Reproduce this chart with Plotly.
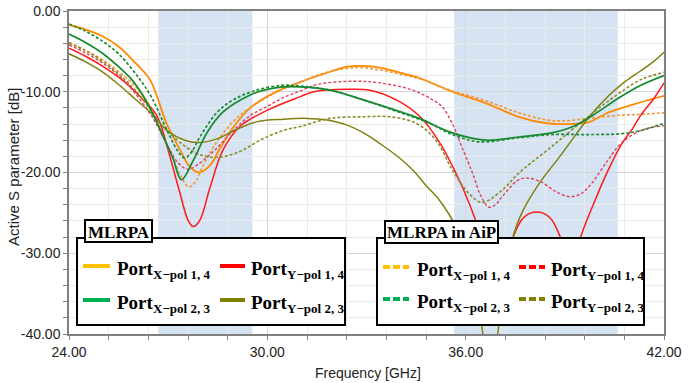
import plotly.graph_objects as go

# ---------------- data ----------------
f_or_s = [24, 24.5, 25, 25.5, 26.0, 26.45, 26.95, 27.36, 27.66, 27.94, 28.27, 28.57, 28.97, 29.48, 30.17, 31.0, 31.7, 32.4, 32.9, 33.4, 33.9, 34.6, 35.6, 36.6, 37.6, 38.45, 39.15, 39.7, 40.3, 41.3, 42]
y_or_s = [-1.7, -2.3, -3.1, -4.4, -6.4, -8.5, -13.9, -17.2, -19.3, -20.0, -19.1, -17.0, -14.4, -12.0, -10.2, -8.8, -7.8, -6.9, -6.8, -7.0, -7.5, -8.3, -10.0, -11.4, -13.1, -13.9, -14.0, -13.8, -12.6, -11.3, -10.5]

f_or_d = [24, 24.5, 25, 25.5, 26.0, 26.45, 26.8, 27.15, 27.4, 27.64, 27.85, 28.0, 28.47, 28.97, 29.4, 30.4, 31.0, 31.7, 32.7, 33.4, 34.0, 34.6, 35.6, 36.6, 37.6, 38.45, 39.0, 39.7, 40.7, 41.3, 42]
y_or_d = [-4.0, -4.9, -6.0, -7.5, -9.3, -11.8, -15.0, -18.3, -20.6, -21.8, -21.0, -19.6, -16.2, -13.7, -12.2, -9.8, -8.8, -7.7, -7.0, -7.3, -7.8, -8.4, -9.9, -11.1, -12.6, -13.5, -13.6, -13.3, -12.9, -12.8, -12.6]

f_rd_s = [24, 24.5, 25, 25.6, 26.2, 26.65, 27.05, 27.36, 27.6, 27.76, 27.96, 28.27, 28.66, 29.17, 29.99, 31.0, 31.4, 32.4, 33.1, 33.9, 34.6, 35.2, 35.8, 36.3, 36.5, 36.75, 36.95, 37.15, 37.4, 37.75, 38.15, 38.55, 38.9, 39.15, 39.3, 39.45, 39.9, 40.3, 40.7, 41.06, 41.3, 41.7, 42]
y_rd_s = [-4.6, -5.6, -6.8, -8.5, -10.8, -12.9, -18.0, -22.6, -25.9, -26.7, -25.9, -21.8, -17.2, -14.3, -12.3, -10.6, -10.0, -9.7, -9.8, -11.0, -13.0, -16.2, -20.9, -25.9, -28.4, -33.0, -35.0, -33.0, -28.4, -25.6, -24.9, -25.6, -28.4, -32.0, -32.0, -28.4, -23.6, -19.8, -16.6, -14.5, -12.9, -10.8, -8.9]

f_rd_d = [24, 24.5, 25, 25.5, 26.0, 26.5, 27.0, 27.3, 27.6, 27.9, 28.47, 28.97, 29.5, 30.0, 30.5, 31.0, 31.5, 32.6, 33.4, 34.4, 35.0, 35.3, 35.6, 35.9, 36.2, 36.45, 36.7, 36.9, 37.1, 37.6, 37.9, 38.3, 38.7, 39.15, 39.5, 39.8, 40.3, 40.7, 41.3, 42]
y_rd_d = [-4.2, -5.2, -6.4, -8.0, -10.2, -13.0, -16.8, -18.8, -19.6, -19.0, -17.0, -14.8, -12.9, -11.8, -10.7, -9.9, -9.1, -8.7, -8.9, -9.8, -11.0, -11.9, -14.0, -17.0, -20.0, -22.8, -24.3, -24.0, -23.0, -20.9, -20.7, -21.2, -22.3, -23.0, -22.6, -21.4, -18.5, -16.4, -14.8, -14.2]

f_gr_s = [24, 24.5, 25, 25.5, 25.9, 26.3, 26.6, 26.9, 27.15, 27.4, 27.76, 28.17, 28.66, 29.48, 29.9, 30.47, 31.0, 31.9, 32.9, 33.9, 34.6, 35.6, 36.6, 37.6, 38.6, 39.25, 39.85, 40.7, 41.3, 42]
y_gr_s = [-2.85, -3.9, -5.2, -6.9, -8.5, -10.9, -13.3, -16.0, -18.3, -20.9, -18.5, -15.1, -12.5, -10.4, -9.8, -9.4, -9.4, -9.8, -11.0, -12.3, -13.3, -15.1, -16.0, -15.6, -15.1, -14.3, -12.9, -10.6, -9.2, -8.0]

f_gr_d = [24, 24.5, 25, 25.5, 26.15, 26.5, 26.8, 27.05, 27.3, 27.5, 27.7, 27.96, 28.47, 28.97, 29.68, 30.47, 31.0, 31.9, 32.9, 33.9, 34.9, 35.6, 36.4, 37.6, 38.6, 39.7, 40.7, 41.3, 42]
y_gr_d = [-1.6, -2.5, -3.7, -5.3, -8.5, -10.7, -13.3, -15.5, -17.4, -18.2, -17.5, -15.6, -12.6, -11.0, -9.8, -9.2, -9.3, -9.8, -11.0, -12.4, -13.9, -15.3, -16.2, -15.7, -15.3, -15.3, -15.2, -14.8, -13.9]

f_ol_s = [24, 24.5, 25, 25.5, 26.0, 26.5, 27.0, 27.5, 27.9, 28.5, 29.0, 29.7, 30.5, 31.2, 31.8, 32.4, 33.0, 33.4, 34.0, 34.4, 34.8, 35.2, 35.5, 35.8, 36.1, 36.35, 36.52, 36.75, 36.97, 37.15, 37.4, 37.7, 38.2, 38.85, 39.3, 39.7, 40.3, 40.8, 41.3, 41.7, 42]
y_ol_s = [-5.3, -6.3, -7.5, -9.1, -10.9, -12.7, -14.9, -16.0, -16.3, -15.8, -14.8, -13.7, -13.4, -13.3, -13.5, -14.1, -15.3, -16.4, -18.2, -19.7, -21.6, -23.4, -25.2, -27.5, -30.5, -35.0, -40.0, -46.0, -40.0, -33.5, -28.4, -25.0, -21.5, -18.0, -15.5, -13.3, -10.6, -8.8, -7.4, -6.2, -5.1]

f_ol_d = [24, 24.5, 25, 25.5, 26.0, 26.5, 26.75, 27.46, 27.96, 28.57, 29.17, 29.78, 30.47, 31.0, 31.9, 32.9, 33.7, 34.5, 35.1, 35.6, 36.1, 36.5, 37.1, 37.6, 38.6, 39.7, 40.5, 41.3, 42]
y_ol_d = [-3.9, -4.9, -6.2, -7.8, -9.8, -12.4, -13.9, -16.6, -17.8, -18.1, -17.4, -16.0, -14.8, -14.3, -13.3, -13.1, -13.1, -13.9, -16.0, -19.7, -22.6, -23.7, -22.2, -20.1, -16.8, -13.1, -10.6, -8.5, -7.6]

bands = [(26.7, 29.55), (35.65, 40.6)]
x_ticks = [24, 30, 36, 42]
y_ticks = [0, -10, -20, -30, -40]
x_title = "Frequency [GHz]"
y_title = "Active S parameter [dB]"

legend1_title = "MLRPA"
legend2_title = "MLRPA in AiP"
legend_subs = ["X\u2212pol 1, 4", "Y\u2212pol 1, 4", "X\u2212pol 2, 3", "Y\u2212pol 2, 3"]
legend_colors = ["#FFC000", "#FF0000", "#00B050", "#808000"]

# ---------------- figure ----------------
fig = go.Figure()

curves = [
    (f_or_s, y_or_s, "#FF8A00", None, 1.8),
    (f_or_d, y_or_d, "#F0973A", "3px,2px", 1.6),
    (f_rd_s, y_rd_s, "#FF1A1A", None, 1.5),
    (f_rd_d, y_rd_d, "#E0405E", "3px,2px", 1.4),
    (f_ol_s, y_ol_s, "#808010", None, 1.5),
    (f_ol_d, y_ol_d, "#8C8C28", "3px,2px", 1.6),
    (f_gr_s, y_gr_s, "#138A2E", None, 1.7),
    (f_gr_d, y_gr_d, "#1F8A35", "3px,2px", 1.7),
]
for fx, fy, col, dash, w in curves:
    fig.add_trace(go.Scatter(x=fx, y=fy, mode="lines",
                             line=dict(color=col, width=w, dash=dash or "solid",
                                       shape="spline", smoothing=1.0),
                             showlegend=False, hoverinfo="skip"))

shapes = []
for a, b in bands:
    shapes.append(dict(type="rect", xref="x", yref="paper", x0=a, x1=b, y0=0, y1=1,
                       fillcolor="#D5E3F2", line=dict(width=0), layer="below"))

# pixel -> paper helpers (plot area: x 69..664, y 11..334)
L, R, T, B = 69, 664, 11, 334
def px(x):
    return (x - L) / (R - L)
def py(y):
    return (B - y) / (B - T)

annotations = []
serif = "Liberation Serif, DejaVu Serif, serif"
sans = "Liberation Sans Narrow, Arial Narrow, Liberation Sans, Arial, sans-serif"

def legend_box(x0, x1, y0, y1, tx0, tx1, ty0, ty1, title, dashed, samples):
    shapes.append(dict(type="rect", xref="paper", yref="paper", x0=px(x0), x1=px(x1),
                       y0=py(y1), y1=py(y0), fillcolor="white",
                       line=dict(color="black", width=2), layer="above"))
    shapes.append(dict(type="rect", xref="paper", yref="paper", x0=px(tx0), x1=px(tx1),
                       y0=py(ty1), y1=py(ty0), fillcolor="white",
                       line=dict(color="black", width=2), layer="above"))
    annotations.append(dict(xref="paper", yref="paper", x=px((tx0 + tx1) / 2), y=py((ty0 + ty1) / 2 + 1),
                            text="<b>" + title + "</b>", showarrow=False, xanchor="center",
                            yanchor="middle", font=dict(family=serif, size=17, color="black")))
    for i, (sx0, sx1, sy, tx) in enumerate(samples):
        shapes.append(dict(type="line", xref="paper", yref="paper", x0=px(sx0), x1=px(sx1),
                           y0=py(sy), y1=py(sy), layer="above",
                           line=dict(color=legend_colors[i], width=4,
                                     dash="7px,3px" if dashed else "solid")))
        annotations.append(dict(xref="paper", yref="paper", x=px(tx), y=py(sy + 2),
                                text="<b>Port</b>", showarrow=False,
                                xanchor="left", yanchor="middle",
                                font=dict(family=serif, size=19, color="black")))
        annotations.append(dict(xref="paper", yref="paper", x=px(tx + 36), y=py(sy + 8),
                                text="<b>" + legend_subs[i] + "</b>", showarrow=False,
                                xanchor="left", yanchor="middle",
                                font=dict(family=serif, size=13, color="black")))

legend_box(77, 345, 238, 325, 85, 152, 220, 242, legend1_title, False,
           [(83, 110, 266, 115), (220, 245, 266, 249), (83, 110, 300, 115), (220, 245, 300, 249)])
legend_box(377, 644, 238, 325, 385, 498, 221, 243, legend2_title, True,
           [(383, 409, 267, 415), (519, 545, 267, 549), (383, 409, 299, 415), (519, 545, 299, 549)])

# axis titles placed as annotations
annotations.append(dict(xref="paper", yref="paper", x=px(368), y=py(373), text=x_title,
                        showarrow=False, xanchor="center", yanchor="middle",
                        font=dict(family=sans, size=14, color="#222")))
annotations.append(dict(xref="paper", yref="paper", x=px(13), y=py(167), text=y_title,
                        showarrow=False, xanchor="center", yanchor="middle", textangle=-90,
                        font=dict(family=sans, size=15, color="#222")))

fig.update_layout(
    width=696, height=383,
    margin=dict(l=L, r=696 - R, t=T, b=383 - B),
    paper_bgcolor="white", plot_bgcolor="white",
    shapes=shapes, annotations=annotations,
    xaxis=dict(range=[24, 42], tickvals=x_ticks, ticktext=[f"{v:.2f}" for v in x_ticks],
               automargin=False,
               showline=True, linecolor="#808080", linewidth=1.5, mirror=True,
               ticks="outside", ticklen=4, tickcolor="#808080",
               showgrid=True, gridcolor="#D6D6D6", gridwidth=1, zeroline=False,
               minor=dict(tick0=24, dtick=1.2, ticks="outside", ticklen=4, tickcolor="#808080",
                          showgrid=True, gridcolor="#EBEBEB", gridwidth=1),
               tickfont=dict(family=sans, size=14, color="#222")),
    yaxis=dict(range=[-40, 0], tickvals=y_ticks, ticktext=[f"{v:.2f}" for v in y_ticks],
               automargin=False,
               showline=True, linecolor="#808080", linewidth=1.5, mirror=True,
               ticks="outside", ticklen=4, tickcolor="#808080",
               showgrid=True, gridcolor="#D6D6D6", gridwidth=1, zeroline=False,
               minor=dict(tick0=0, dtick=2, ticks="outside", ticklen=4, tickcolor="#808080",
                          showgrid=True, gridcolor="#EBEBEB", gridwidth=1),
               tickfont=dict(family=sans, size=14, color="#222")),
)

fig.write_html("out.html")
